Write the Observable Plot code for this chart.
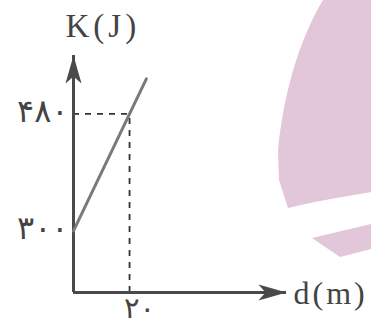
<!DOCTYPE html>
<html>
<head>
<meta charset="utf-8">
<script src="https://cdn.jsdelivr.net/npm/d3@7"></script>
<script src="https://cdn.jsdelivr.net/npm/@observablehq/plot@0.6"></script>
<style>
  html, body { margin: 0; padding: 0; background: #fff; }
  #wrap { position: relative; width: 371px; height: 326px; overflow: hidden; }
  #bg { position: absolute; left: 0; top: 0; }
  #chart { position: absolute; left: 0; top: 0; }
</style>
</head>
<body>
<div id="wrap">
  <svg id="bg" width="371" height="326">
    <path d="M323,0 C305,30 285,80 278,150 L279,180 L288,208 C320,200 350,196 371,192 L371,0 Z" fill="#e2c6d9"/>
    <path d="M312,238 L371,224 L371,249 L340,257 Z" fill="#e2c6d9"/>
  </svg>
  <div id="chart"></div>
</div>
<script>
// Data
const distance = [0, 20, 26];          // d (m)
const energy = [300, 480, 534];        // K (J)
const xTicks = [20];
const xTickLabels = ["۲۰"];
const yTicks = [300, 480];
const yTickLabels = ["۳۰۰", "۴۸۰"];
const xDomain = [0, 76];
const yDomain = [205, 570];
const xAxisLabel = "d(m)";
const yAxisLabel = "K(J)";

const linePts = distance.map((d, i) => ({d, k: energy[i]}));
const guide = {d: xTicks[0], k: yTicks[1]};

// stealth-like filled arrowhead, tip at origin, body extending toward +y
const stealth = {
  draw(ctx, size) {
    const L = 28, W = 8, N = 21;
    ctx.moveTo(0, 0);
    ctx.lineTo(W, L);
    ctx.lineTo(0, N);
    ctx.lineTo(-W, L);
    ctx.closePath();
  }
};

const axisColor = "#4a4a4a";
const fa = "Liberation Serif, Times New Roman, serif";
const faDigits = "DejaVu Sans, Noto Sans, sans-serif";

const fmtX = new Map(xTicks.map((t, i) => [t, xTickLabels[i]]));
const fmtY = new Map(yTicks.map((t, i) => [t, yTickLabels[i]]));

const plot = Plot.plot({
  width: 371,
  height: 326,
  marginLeft: 73,
  marginRight: 85,
  marginTop: 55,
  marginBottom: 34,
  style: {background: "transparent", overflow: "visible"},
  x: {domain: xDomain, axis: null},
  y: {domain: yDomain, axis: null},
  marks: [
    // dashed guides
    Plot.ruleX([guide], {x: "d", y1: yDomain[0], y2: "k", stroke: "#333", strokeWidth: 1.8, strokeDasharray: "6,6"}),
    Plot.ruleY([guide], {y: "k", x1: xDomain[0], x2: "d", stroke: "#333", strokeWidth: 1.8, strokeDasharray: "6,6"}),
    // axes
    Plot.ruleX([xDomain[0]], {y1: yDomain[0], y2: yDomain[1], stroke: axisColor, strokeWidth: 3}),
    Plot.ruleY([yDomain[0]], {x1: xDomain[0], x2: xDomain[1], stroke: axisColor, strokeWidth: 3}),
    Plot.dot([{d: xDomain[0], k: yDomain[1]}], {x: "d", y: "k", symbol: stealth, r: 5, fill: axisColor, stroke: "none", rotate: 0}),
    Plot.dot([{d: xDomain[1], k: yDomain[0]}], {x: "d", y: "k", symbol: stealth, r: 5, fill: axisColor, stroke: "none", rotate: 90}),
    // data line
    Plot.line(linePts, {x: "d", y: "k", stroke: "#7a7a7a", strokeWidth: 3}),
    // tick labels
    Plot.text(yTicks, {x: xDomain[0], y: d => d, text: d => fmtY.get(d), textAnchor: "end", dx: -5, dy: -2, fontSize: 32, fontFamily: faDigits, fill: "#444"}),
    Plot.text(xTicks, {x: d => d, y: yDomain[0], text: d => fmtX.get(d), textAnchor: "middle", dx: 10, dy: 16, fontSize: 29, fontFamily: faDigits, fill: "#444"}),
    // axis titles
    Plot.text([yAxisLabel], {frameAnchor: "top-left", text: d => d, textAnchor: "start", lineAnchor: "bottom", dx: -8, dy: -19, fontSize: 33, fontFamily: fa, fill: "#444"}),
    Plot.text([xAxisLabel], {frameAnchor: "bottom-right", text: d => d, textAnchor: "start", lineAnchor: "middle", dx: 7, dy: 1, fontSize: 32, fontFamily: fa, fill: "#444"})
  ]
});
d3.select(plot).selectAll("text").each(function () {
  const t = this.textContent;
  let ls = null;
  if (yTickLabels.includes(t) || xTickLabels.includes(t)) ls = "7px";
  else if (t === yAxisLabel) ls = "4px";
  else if (t === xAxisLabel) ls = "3px";
  if (ls) { this.setAttribute("letter-spacing", ls); this.style.letterSpacing = ls; }
});
document.getElementById("chart").appendChild(plot);
</script>
</body>
</html>
